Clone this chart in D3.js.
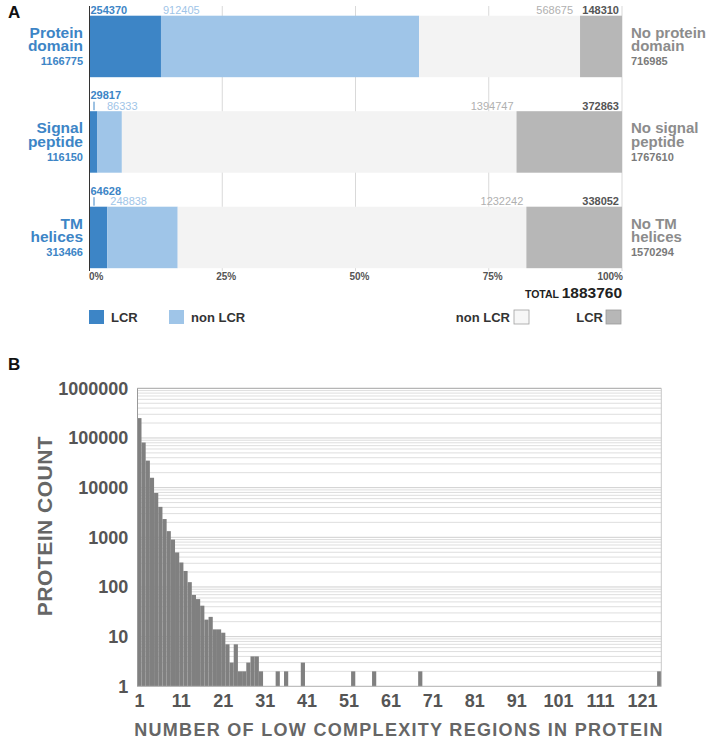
<!DOCTYPE html>
<html><head><meta charset="utf-8">
<script src="https://cdn.jsdelivr.net/npm/d3@7"></script>
<style>
body{margin:0;background:#fff}
svg{display:block}
text{font-family:"Liberation Sans",Arial,Helvetica,sans-serif}
</style>
</head><body>
<svg id="chart" width="708" height="740"></svg>
<script>
// ---------- Panel A data ----------
const featureNames = [["Protein","domain"],["Signal","peptide"],["TM","helices"]];
const absentNames  = [["No protein","domain"],["No signal","peptide"],["No TM","helices"]];
const withFeature    = [1166775, 116150, 313466];
const withoutFeature = [716985, 1767610, 1570294];
const withLCR        = [254370, 29817, 64628];
const withNonLCR     = [912405, 86333, 248838];
const withoutNonLCR  = [568675, 1394747, 1232242];
const withoutLCR     = [148310, 372863, 338052];
const totalProteins  = 1883760;
const pctTicks = [0, 0.25, 0.5, 0.75, 1];

// ---------- Panel B data ----------
const lcrBins = [1,2,3,4,5,6,7,8,9,10,11,12,13,14,15,16,17,18,19,20,21,22,23,24,25,26,27,28,29,30,34,36,40,52,57,68,125];
const proteinCounts = [251000,81000,35000,15800,7800,4100,2330,1330,900,495,311,210,125,69,57,42,22,25,14,14,12,7,3,7,2,2,3,4,4,2,2,2,3,2,2,2,2];
const yTickValues = [1,10,100,1000,10000,100000,1000000];
const xTickLabels = [1,11,21,31,41,51,61,71,81,91,101,111,121];
const maxBin = 125;

const svg = d3.select("#chart");

// ---------- colours ----------
const cDark = "#3d85c6", cLight = "#9fc5e8", cPale = "#f3f3f3", cGray = "#b7b7b7";

// ================= PANEL A =================
const xA = d3.scaleLinear().domain([0, totalProteins]).range([89, 622]);
const yA = d3.scaleBand().domain([0,1,2]).range([15.7, 15.7 + 3*95.5]).paddingInner(0).paddingOuter(0);
const barH = 61.5;

svg.append("text").attr("x", 8).attr("y", 18).text("A")
  .attr("font-size", 17).attr("font-weight", "bold").attr("fill", "#111");

const gA = svg.append("g");
// grid lines
gA.selectAll("line.grid").data(pctTicks.slice(1)).join("line")
  .attr("x1", d => xA(d*totalProteins)).attr("x2", d => xA(d*totalProteins))
  .attr("y1", 6).attr("y2", 271)
  .attr("stroke", "#d9d9d9").attr("stroke-width", 1);

// bars
const segs = [];
featureNames.forEach((n, i) => {
  const a = withLCR[i], b = withFeature[i], c = totalProteins - withoutLCR[i];
  segs.push({i, x0: 0, x1: a, col: cDark});
  segs.push({i, x0: a, x1: b, col: cLight});
  segs.push({i, x0: b, x1: c, col: cPale});
  segs.push({i, x0: c, x1: totalProteins, col: cGray});
});
gA.selectAll("rect.seg").data(segs).join("rect")
  .attr("x", d => xA(d.x0)).attr("width", d => xA(d.x1) - xA(d.x0))
  .attr("y", d => yA(d.i)).attr("height", barH)
  .attr("fill", d => d.col);

// axis line at 0
gA.append("line").attr("x1", 89.5).attr("x2", 89.5).attr("y1", 6).attr("y2", 271)
  .attr("stroke", "#333").attr("stroke-width", 1);

// value labels above bars
featureNames.forEach((n, i) => {
  const top = yA(i);
  const twoRow = i > 0;
  const rowDark = twoRow ? top - 12 : top - 1.5;
  const rowRest = top - 1.5;
  gA.append("text").attr("x", 90.5).attr("y", rowDark).text(withLCR[i])
    .attr("font-size", 11).attr("font-weight", "bold").attr("fill", cDark);
  if (twoRow) {
    gA.append("line").attr("x1", 94).attr("x2", 94).attr("y1", top - 9.5).attr("y2", top - 1)
      .attr("stroke", cDark).attr("stroke-width", 1);
  }
  const lx = twoRow ? Math.max(xA(withLCR[i]) + 3, 107) : xA(withLCR[i]) + 2;
  gA.append("text").attr("x", lx).attr("y", rowRest).text(withNonLCR[i])
    .attr("font-size", 11).attr("fill", cLight);
  gA.append("text").attr("x", xA(totalProteins - withoutLCR[i]) - (i === 0 ? 7 : 3)).attr("y", rowRest)
    .attr("text-anchor", "end").text(withoutNonLCR[i])
    .attr("font-size", 11).attr("fill", "#b0b0b0");
  gA.append("text").attr("x", 619).attr("y", rowRest).attr("text-anchor", "end").text(withoutLCR[i])
    .attr("font-size", 11).attr("font-weight", "bold").attr("fill", "#555");

  // left category labels
  const lt = gA.append("text").attr("text-anchor", "end").attr("fill", cDark).attr("font-weight", "bold");
  lt.append("tspan").attr("x", 83).attr("y", top + 22).attr("font-size", 15.5).text(n[0]);
  lt.append("tspan").attr("x", 83).attr("y", top + 35.5).attr("font-size", 15.5).text(n[1]);
  lt.append("tspan").attr("x", 83).attr("y", top + 49.5).attr("font-size", 11).text(withFeature[i]);
  // right labels
  const rt = gA.append("text").attr("fill", "#8c8c8c").attr("font-weight", "bold");
  rt.append("tspan").attr("x", 631).attr("y", top + 22).attr("font-size", 15).text(absentNames[i][0]);
  rt.append("tspan").attr("x", 631).attr("y", top + 35.5).attr("font-size", 15).text(absentNames[i][1]);
  rt.append("tspan").attr("x", 631).attr("y", top + 49.5).attr("font-size", 11).attr("fill", "#7a7a7a").text(withoutFeature[i]);
});

// percentage ticks
gA.selectAll("text.pct").data(pctTicks).join("text")
  .attr("x", (d, k) => xA(d*totalProteins) + (k === 0 ? 0 : (k === pctTicks.length - 1 ? 1 : 4)))
  .attr("y", 280)
  .attr("text-anchor", (d, k) => k === 0 ? "start" : (k === pctTicks.length - 1 ? "end" : "middle"))
  .attr("font-size", 10).attr("font-weight", "bold").attr("fill", "#555")
  .text(d => d3.format(".0%")(d));

// total
const tt = gA.append("text").attr("x", 622).attr("y", 298).attr("text-anchor", "end")
  .attr("font-weight", "bold").attr("fill", "#222");
tt.append("tspan").attr("font-size", 10.5).text("TOTAL ");
tt.append("tspan").attr("font-size", 15.5).text(totalProteins);

// legend
const legend = [
  {sx: 89, tx: 111, anchor: "start", col: cDark, label: "LCR"},
  {sx: 169, tx: 191, anchor: "start", col: cLight, label: "non LCR"},
  {sx: 514, tx: 510, anchor: "end", col: "#f7f7f7", label: "non LCR", stroke: "#a0a0a0"},
  {sx: 606, tx: 603, anchor: "end", col: cGray, label: "LCR", stroke: "#999"}
];
legend.forEach(l => {
  gA.append("rect").attr("x", l.sx).attr("y", 310).attr("width", 15).attr("height", 14)
    .attr("fill", l.col).attr("stroke", l.stroke || "none").attr("stroke-width", 0.8);
  gA.append("text").attr("x", l.tx).attr("y", 322).attr("text-anchor", l.anchor)
    .attr("font-size", 13).attr("font-weight", "bold").attr("fill", "#333").text(l.label);
});

// ================= PANEL B =================
const bins = d3.range(1, maxBin + 1);
const xB = d3.scaleBand().domain(bins).range([137.3, 661.3]).padding(0);
const yB = d3.scaleLog().domain([1, 1e6]).range([686.3, 388.3]);

svg.append("text").attr("x", 8).attr("y", 370).text("B")
  .attr("font-size", 17).attr("font-weight", "bold").attr("fill", "#111");

const gB = svg.append("g");
// gridlines (major and minor)
const gridVals = [];
for (let e = 0; e < 6; e++) for (let m = 1; m <= 9; m++) gridVals.push(m * Math.pow(10, e));
gB.selectAll("line.g").data(gridVals.filter(v => v > 1)).join("line")
  .attr("x1", 137.3).attr("x2", 661.3)
  .attr("y1", d => yB(d)).attr("y2", d => yB(d))
  .attr("stroke", d => (Math.log10(d) % 1 === 0) ? "#cfcfcf" : "#dedede").attr("stroke-width", 1);
gB.append("line").attr("x1", 137.3).attr("x2", 661.3).attr("y1", yB(1e6)).attr("y2", yB(1e6))
  .attr("stroke", "#b5b5b5").attr("stroke-width", 1.2);

// bars
const hist = lcrBins.map((b, k) => ({bin: b, count: proteinCounts[k]}));
gB.selectAll("rect.bar").data(hist).join("rect")
  .attr("x", d => xB(d.bin)).attr("width", xB.bandwidth())
  .attr("y", d => yB(d.count)).attr("height", d => yB(1) - yB(d.count))
  .attr("fill", "#808080");

// frame
gB.append("line").attr("x1", 661.3).attr("x2", 661.3).attr("y1", yB(1e6)).attr("y2", yB(1))
  .attr("stroke", "#c8c8c8");
gB.append("line").attr("x1", 137.3).attr("x2", 661.3).attr("y1", yB(1)).attr("y2", yB(1))
  .attr("stroke", "#b0b0b0");
gB.append("line").attr("x1", 137.5).attr("x2", 137.5).attr("y1", yB(1e6)).attr("y2", yB(1))
  .attr("stroke", "#999");

// y axis labels
const yAxis = d3.axisLeft(yB).tickValues(yTickValues).tickSize(0).tickPadding(9).tickFormat(d3.format("d"));
const gy = gB.append("g").attr("transform", "translate(137.3,0)").call(yAxis);
gy.select(".domain").remove();
gy.selectAll("text").attr("font-size", 18).attr("font-weight", "bold").attr("fill", "#555")
  .attr("font-family", '"Liberation Sans",Arial,sans-serif');

// x axis labels
const xAxis = d3.axisBottom(xB).tickValues(xTickLabels).tickSize(0).tickPadding(8);
const gx = gB.append("g").attr("transform", "translate(0,686.3)").call(xAxis);
gx.select(".domain").remove();
gx.selectAll("text").attr("font-size", 18).attr("font-weight", "bold").attr("fill", "#555")
  .attr("font-family", '"Liberation Sans",Arial,sans-serif');

// axis titles
svg.append("text").attr("transform", "translate(52,526) rotate(-90)").attr("text-anchor", "middle")
  .attr("font-size", 21).attr("font-weight", "bold").attr("fill", "#666")
  .attr("letter-spacing", 0.5).text("PROTEIN COUNT");
svg.append("text").attr("x", 399).attr("y", 736).attr("text-anchor", "middle")
  .attr("font-size", 18).attr("font-weight", "bold").attr("fill", "#666")
  .attr("letter-spacing", 1.3).text("NUMBER OF LOW COMPLEXITY REGIONS IN PROTEIN");
</script>
</body></html>
